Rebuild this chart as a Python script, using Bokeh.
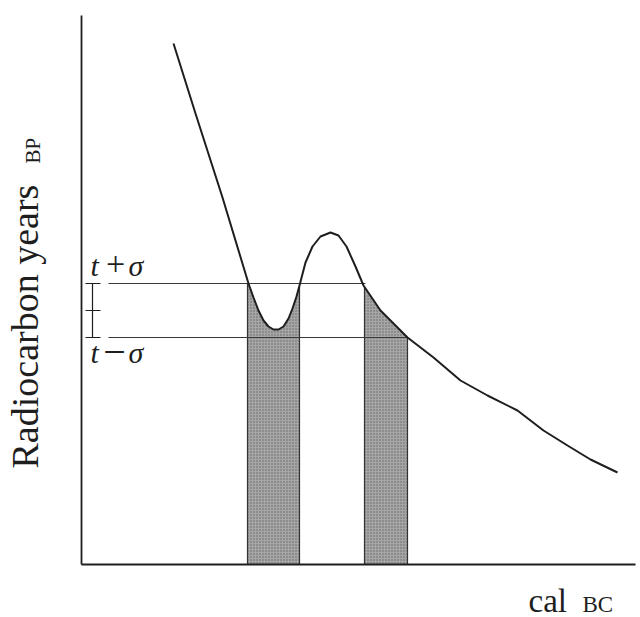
import numpy as np
from bokeh.plotting import figure
from bokeh.models import Range1d
from bokeh.core.properties import value
from bokeh.embed import file_html
from bokeh.resources import INLINE

# Calibration curve (cal BC offset from axis, radiocarbon years offset from axis)
curve_x = [92, 114, 141, 167, 172, 177, 182, 187, 192, 197, 202, 207, 211, 215,
           218, 224, 231, 239, 249, 257, 265, 274, 282, 299, 326, 352, 379, 406,
           436, 462, 486, 509, 536]
curve_y = [521, 451, 367, 281, 267, 254, 244, 238, 235, 235, 238, 246, 256, 268,
           279, 302, 318, 328, 332, 329, 318, 298, 279, 254, 227, 207, 184, 169,
           154, 134, 119, 105, 92]

# Measured date t with its one-sigma range
t_plus = 281
t_minus = 227
t_mid = 254

# Calendar intervals where the curve falls inside t +/- sigma
bands = [(166, 218), (283, 326)]

# Extent of the axes
x_axis_end = 554
y_axis_end = 549

FONT = "Liberation Serif"
INK = "#1e1e1e"

p = figure(width=640, height=617, output_backend="svg", toolbar_location=None,
           x_range=Range1d(-81, 559), y_range=Range1d(-53, 564),
           min_border=0, x_axis_location=None, y_axis_location=None)
p.grid.visible = False
p.outline_line_color = None
p.background_fill_color = "white"
p.border_fill_color = "white"

cx = np.array(curve_x, dtype=float)
cy = np.array(curve_y, dtype=float)

# Shaded probability bands under the curve
for x0, x1 in bands:
    inner = cx[(cx > x0) & (cx < x1)]
    xs = np.concatenate([[x0], inner, [x1]])
    ys = np.minimum(np.interp(xs, cx, cy), t_plus)
    p.varea(x=xs, y1=np.zeros_like(xs), y2=ys, fill_color="#a6a6a6",
            hatch_pattern="dot", hatch_color="#626262", hatch_scale=3,
            hatch_weight=1)
    p.segment(x0=[x0, x1], y0=[0, 0], x1=[x0, x1], y1=[ys[0], ys[-1]],
              line_color="#333333", line_width=1.2)

# One-sigma horizontal lines
p.segment(x0=[27, 27], y0=[t_plus, t_minus], x1=[bands[1][0] + 1, bands[1][1]],
          y1=[t_plus, t_minus], line_color="#3a3a3a", line_width=1)

# Error bar
p.segment(x0=[11], y0=[t_minus], x1=[11], y1=[t_plus], line_color=INK, line_width=1.2)
p.segment(x0=[4, 4, 4], y0=[t_plus, t_minus, t_mid], x1=[19, 19, 19],
          y1=[t_plus, t_minus, t_mid], line_color=INK, line_width=1.2)

# Calibration curve
p.line(cx, cy, line_color=INK, line_width=2)

# Axes
p.segment(x0=[0, 0], y0=[0, 0], x1=[0, x_axis_end], y1=[y_axis_end, 0],
          line_color=INK, line_width=1.8)

# Sigma labels, glyph by glyph
p.text(x=[9, 47, 9, 47], y=[299, 299, 212, 212], text=["t", "σ", "t", "σ"],
       text_font=value(FONT), text_font_style="italic", text_font_size="30px",
       text_color=INK, text_align="left", text_baseline="alphabetic")
p.text(x=[34], y=[301], text=["+"], text_font=value(FONT),
       text_font_size="34px", text_color=INK,
       text_align="center", text_baseline="alphabetic")
p.text(x=[33], y=[213], text=["−"], text_font=value(FONT),
       text_font_size="40px", text_color=INK,
       text_align="center", text_baseline="alphabetic")

# Axis titles
p.text(x=[-57], y=[96], text=["Radiocarbon years"], angle=np.pi / 2,
       text_font=value(FONT), text_font_size="38px", text_color=INK,
       text_align="left", text_baseline="alphabetic")
p.text(x=[-49], y=[401], text=["BP"], angle=np.pi / 2,
       text_font=value(FONT), text_font_size="21px", text_color=INK,
       text_align="left", text_baseline="alphabetic")

p.text(x=[447], y=[-36], text=["cal"], text_font=value(FONT),
       text_font_size="33px", text_color=INK, text_align="left",
       text_baseline="alphabetic")
p.text(x=[501], y=[-40], text=["BC"], text_font=value(FONT),
       text_font_size="23px", text_color=INK, text_align="left",
       text_baseline="alphabetic")

open("out.html", "w").write(file_html(p, INLINE))
